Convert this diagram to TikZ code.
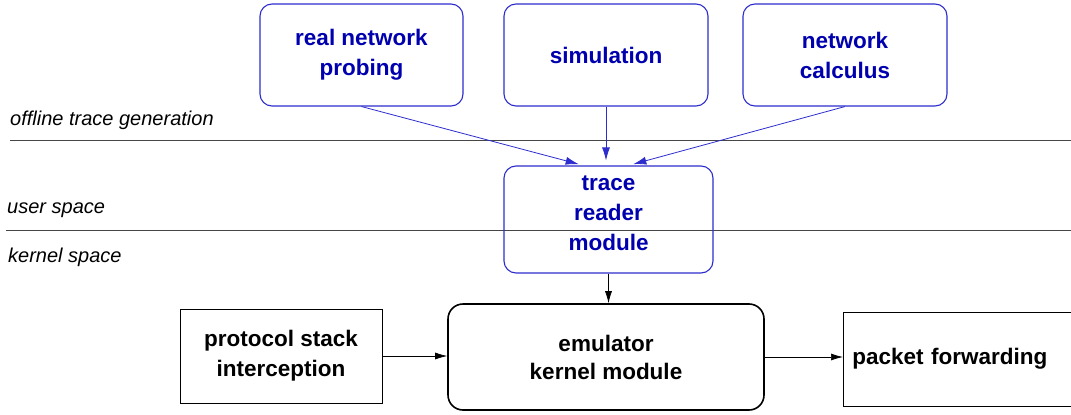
\documentclass[tikz,border=0pt]{standalone}
\usepackage{fontspec}
\setmainfont{Liberation Sans}
\usetikzlibrary{arrows.meta}
\definecolor{traceblue}{RGB}{0,0,175}
\definecolor{boxblue}{RGB}{45,45,205}
\definecolor{layergray}{RGB}{70,70,70}

\begin{document}
\begin{tikzpicture}[x=1pt, y=-1pt,
    srcbox/.style={draw=boxblue, line width=1.1pt, rounded corners=12pt, text=traceblue,
      font=\fontsize{22.5}{30}\selectfont\bfseries, align=center},
    kernbox/.style={draw, line width=1.6pt, rounded corners=15pt,
      font=\fontsize{22.5}{28}\selectfont\bfseries, align=center},
    plainbox/.style={draw, line width=0.7pt, font=\fontsize{22.5}{30}\selectfont\bfseries, align=center},
    layerlabel/.style={anchor=west, inner sep=0pt, font=\fontsize{20}{24}\selectfont\itshape},
    blueflow/.style={draw=boxblue, line width=0.8pt, -{Latex[length=13pt,width=8pt]}},
    flow/.style={draw, line width=0.7pt, -{Latex[length=12pt,width=7pt]}}]
  \useasboundingbox (0,0) rectangle (1071,415);
  \clip (0,0) rectangle (1071,415);

  % layers
  \draw[layergray, line width=0.8pt] (10,140) -- (1071,140);
  \draw[layergray, line width=0.8pt] (6,230) -- (1071,230);
  \node[layerlabel] (offline) at (10,120) {offline trace generation};
  \node[layerlabel] (user) at (7,210) {user space};
  \node[layerlabel] (kernel) at (8,257) {kernel space};

  % trace sources
  \node[srcbox, minimum width=203pt, minimum height=102pt] (probe) at (361.5,55) {real network\\probing};
  \node[srcbox, minimum width=204pt, minimum height=102pt] (sim) at (606,55) {simulation};
  \node[srcbox, minimum width=204pt, minimum height=102pt] (calc) at (845,55) {network\\calculus};

  \node[srcbox, minimum width=209pt, minimum height=107pt, text depth=12pt] (reader) at (608.5,219.5) {trace\\reader\\module};

  % kernel part
  \node[kernbox, minimum width=316pt, minimum height=106pt] (emu) at (606,357) {emulator\\kernel module};
  \node[plainbox, minimum width=202pt, minimum height=94pt] (stack) at (281,356) {protocol stack\\interception};
  \node[plainbox, anchor=west, minimum height=94pt, text width=240pt, inner sep=9pt, align=left] (fwd) at (843,359) {packet forwarding};

  \draw[blueflow, shorten >=5pt] (probe.south) -- ([xshift=-25pt]reader.north);
  \draw[blueflow, shorten >=5pt] (sim.south) -- (sim.south |- reader.north);
  \draw[blueflow, shorten >=5pt] (calc.south) -- ([xshift=20pt]reader.north);
  \draw[flow] (reader.south) -- (reader.south |- emu.north);
  \draw[flow] (stack.east) -- (stack.east -| emu.west);
  \draw[flow] (emu.east) -- (emu.east -| fwd.west);
\end{tikzpicture}
\end{document}
